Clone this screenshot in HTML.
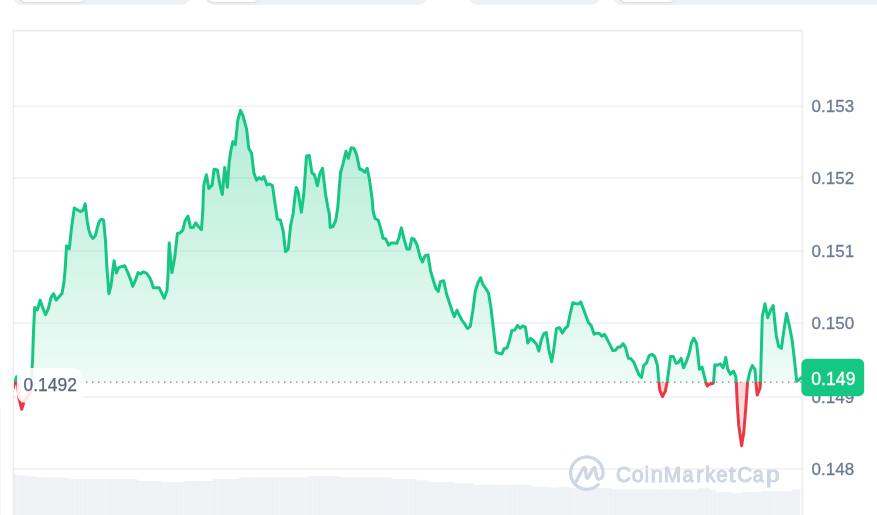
<!DOCTYPE html>
<html><head><meta charset="utf-8"><title>Chart</title>
<style>
html,body{margin:0;padding:0;background:#fff;}
body{width:877px;height:515px;overflow:hidden;position:relative;font-family:"Liberation Sans",sans-serif;}
.pill{position:absolute;top:-30px;height:34.6px;background:#eff2f5;border-radius:9px;}
.tog{position:absolute;top:-30px;height:31.8px;background:#fff;border-radius:7px;box-shadow:0 1px 2px rgba(128,138,157,.18),0 0 1px rgba(128,138,157,.25);}
svg{position:absolute;left:0;top:0;}
.ax{font-family:"Liberation Sans",sans-serif;font-size:17px;fill:#6e7992;stroke:#6e7992;stroke-width:.3px}
.wm{font-family:"Liberation Sans",sans-serif;font-size:21.8px;fill:#cfd6e4;stroke:#cfd6e4;stroke-width:1.1px;stroke-linejoin:round;stroke-linecap:round}
.t{font-family:"Liberation Sans",sans-serif;}
.txt{filter:blur(.35px);}
</style></head><body>
<div class="pill" style="left:13.4px;width:176.4px"></div><div class="tog" style="left:18.6px;width:68.9px"></div>
<div class="pill" style="left:204.6px;width:222px"></div><div class="tog" style="left:207px;width:52.5px"></div>
<div class="pill" style="left:468.5px;width:131.5px"></div>
<div class="pill" style="left:613.4px;width:300px"></div><div class="tog" style="left:618.6px;width:57.4px"></div>
<svg width="877" height="515" viewBox="0 0 877 515">
<defs>
<linearGradient id="gg" gradientUnits="userSpaceOnUse" x1="0" y1="100" x2="0" y2="382.0">
<stop offset="0" stop-color="#16c784" stop-opacity=".34"/><stop offset="1" stop-color="#16c784" stop-opacity=".07"/></linearGradient>
<linearGradient id="rg" gradientUnits="userSpaceOnUse" x1="0" y1="382.0" x2="0" y2="450">
<stop offset="0" stop-color="#ea3943" stop-opacity=".22"/><stop offset="1" stop-color="#ea3943" stop-opacity=".12"/></linearGradient>
<clipPath id="up"><rect x="14.0" y="0" width="788.3" height="382.0"/></clipPath>
<clipPath id="dn"><rect x="14.0" y="382.0" width="788.3" height="200"/></clipPath>
</defs>
<rect x="-6" y="406.5" width="7.2" height="130" rx="4" fill="#f6f7f9"/>
<!-- volume -->
<g fill="#eef1f5"><rect x="14" y="473.8" width="2.3" height="42.2"/><rect x="16.7" y="475" width="2.3" height="41"/><rect x="19.5" y="475" width="2.3" height="41"/><rect x="22.2" y="475" width="2.3" height="41"/><rect x="25" y="476.3" width="2.3" height="39.7"/><rect x="27.7" y="476.3" width="2.3" height="39.7"/><rect x="30.4" y="476.3" width="2.3" height="39.7"/><rect x="33.2" y="476.3" width="2.3" height="39.7"/><rect x="35.9" y="477.5" width="2.3" height="38.5"/><rect x="38.7" y="477.5" width="2.3" height="38.5"/><rect x="41.4" y="477.5" width="2.3" height="38.5"/><rect x="44.1" y="477.5" width="2.3" height="38.5"/><rect x="46.9" y="477.5" width="2.3" height="38.5"/><rect x="49.6" y="477.5" width="2.3" height="38.5"/><rect x="52.4" y="477.5" width="2.3" height="38.5"/><rect x="55.1" y="477.5" width="2.3" height="38.5"/><rect x="57.8" y="477.5" width="2.3" height="38.5"/><rect x="60.6" y="477.5" width="2.3" height="38.5"/><rect x="63.3" y="478" width="2.3" height="38"/><rect x="66.1" y="478" width="2.3" height="38"/><rect x="68.8" y="479.3" width="2.3" height="36.7"/><rect x="71.5" y="479.3" width="2.3" height="36.7"/><rect x="74.3" y="479.3" width="2.3" height="36.7"/><rect x="77" y="479.3" width="2.3" height="36.7"/><rect x="79.8" y="479.3" width="2.3" height="36.7"/><rect x="82.5" y="479.3" width="2.3" height="36.7"/><rect x="85.2" y="479.3" width="2.3" height="36.7"/><rect x="88" y="479.3" width="2.3" height="36.7"/><rect x="90.7" y="479.3" width="2.3" height="36.7"/><rect x="93.5" y="479.3" width="2.3" height="36.7"/><rect x="96.2" y="479.3" width="2.3" height="36.7"/><rect x="98.9" y="479.3" width="2.3" height="36.7"/><rect x="101.7" y="479.3" width="2.3" height="36.7"/><rect x="104.4" y="479.3" width="2.3" height="36.7"/><rect x="107.2" y="479.3" width="2.3" height="36.7"/><rect x="109.9" y="479.3" width="2.3" height="36.7"/><rect x="112.6" y="479.3" width="2.3" height="36.7"/><rect x="115.4" y="479.3" width="2.3" height="36.7"/><rect x="118.1" y="479.3" width="2.3" height="36.7"/><rect x="120.9" y="479.3" width="2.3" height="36.7"/><rect x="123.6" y="479.3" width="2.3" height="36.7"/><rect x="126.3" y="479.3" width="2.3" height="36.7"/><rect x="129.1" y="479.3" width="2.3" height="36.7"/><rect x="131.8" y="479.3" width="2.3" height="36.7"/><rect x="134.6" y="479.3" width="2.3" height="36.7"/><rect x="137.3" y="481" width="2.3" height="35"/><rect x="140" y="481" width="2.3" height="35"/><rect x="142.8" y="481" width="2.3" height="35"/><rect x="145.5" y="481" width="2.3" height="35"/><rect x="148.3" y="481" width="2.3" height="35"/><rect x="151" y="481" width="2.3" height="35"/><rect x="153.7" y="481" width="2.3" height="35"/><rect x="156.5" y="481" width="2.3" height="35"/><rect x="159.2" y="481" width="2.3" height="35"/><rect x="162" y="482.3" width="2.3" height="33.7"/><rect x="164.7" y="482.3" width="2.3" height="33.7"/><rect x="167.4" y="482.3" width="2.3" height="33.7"/><rect x="170.2" y="482.3" width="2.3" height="33.7"/><rect x="172.9" y="482.3" width="2.3" height="33.7"/><rect x="175.7" y="482.3" width="2.3" height="33.7"/><rect x="178.4" y="482.3" width="2.3" height="33.7"/><rect x="181.1" y="482.3" width="2.3" height="33.7"/><rect x="183.9" y="481" width="2.3" height="35"/><rect x="186.6" y="481" width="2.3" height="35"/><rect x="189.4" y="481" width="2.3" height="35"/><rect x="192.1" y="481" width="2.3" height="35"/><rect x="194.8" y="481" width="2.3" height="35"/><rect x="197.6" y="481" width="2.3" height="35"/><rect x="200.3" y="481" width="2.3" height="35"/><rect x="203.1" y="481" width="2.3" height="35"/><rect x="205.8" y="481" width="2.3" height="35"/><rect x="208.5" y="481" width="2.3" height="35"/><rect x="211.3" y="481" width="2.3" height="35"/><rect x="214" y="479" width="2.3" height="37"/><rect x="216.8" y="479" width="2.3" height="37"/><rect x="219.5" y="479" width="2.3" height="37"/><rect x="222.2" y="479" width="2.3" height="37"/><rect x="225" y="479" width="2.3" height="37"/><rect x="227.7" y="479" width="2.3" height="37"/><rect x="230.5" y="479" width="2.3" height="37"/><rect x="233.2" y="479" width="2.3" height="37"/><rect x="235.9" y="479" width="2.3" height="37"/><rect x="238.7" y="477.5" width="2.3" height="38.5"/><rect x="241.4" y="477.5" width="2.3" height="38.5"/><rect x="244.2" y="477.5" width="2.3" height="38.5"/><rect x="246.9" y="477.5" width="2.3" height="38.5"/><rect x="249.6" y="477.5" width="2.3" height="38.5"/><rect x="252.4" y="477.5" width="2.3" height="38.5"/><rect x="255.1" y="477.5" width="2.3" height="38.5"/><rect x="257.9" y="477.5" width="2.3" height="38.5"/><rect x="260.6" y="477.5" width="2.3" height="38.5"/><rect x="263.3" y="477.5" width="2.3" height="38.5"/><rect x="266.1" y="477.5" width="2.3" height="38.5"/><rect x="268.8" y="477.5" width="2.3" height="38.5"/><rect x="271.6" y="477.5" width="2.3" height="38.5"/><rect x="274.3" y="477.5" width="2.3" height="38.5"/><rect x="277" y="477.5" width="2.3" height="38.5"/><rect x="279.8" y="477.5" width="2.3" height="38.5"/><rect x="282.5" y="477.5" width="2.3" height="38.5"/><rect x="285.3" y="477.5" width="2.3" height="38.5"/><rect x="288" y="477.5" width="2.3" height="38.5"/><rect x="290.7" y="477.5" width="2.3" height="38.5"/><rect x="293.5" y="477.5" width="2.3" height="38.5"/><rect x="296.2" y="477.5" width="2.3" height="38.5"/><rect x="299" y="477.5" width="2.3" height="38.5"/><rect x="301.7" y="477.5" width="2.3" height="38.5"/><rect x="304.4" y="477.5" width="2.3" height="38.5"/><rect x="307.2" y="476.3" width="2.3" height="39.7"/><rect x="309.9" y="476.3" width="2.3" height="39.7"/><rect x="312.7" y="476.3" width="2.3" height="39.7"/><rect x="315.4" y="476.3" width="2.3" height="39.7"/><rect x="318.1" y="476.3" width="2.3" height="39.7"/><rect x="320.9" y="476.3" width="2.3" height="39.7"/><rect x="323.6" y="476.3" width="2.3" height="39.7"/><rect x="326.4" y="476.3" width="2.3" height="39.7"/><rect x="329.1" y="476.3" width="2.3" height="39.7"/><rect x="331.8" y="476.3" width="2.3" height="39.7"/><rect x="334.6" y="476.3" width="2.3" height="39.7"/><rect x="337.3" y="476.3" width="2.3" height="39.7"/><rect x="340.1" y="477.5" width="2.3" height="38.5"/><rect x="342.8" y="477.5" width="2.3" height="38.5"/><rect x="345.5" y="477.5" width="2.3" height="38.5"/><rect x="348.3" y="477.5" width="2.3" height="38.5"/><rect x="351" y="477.5" width="2.3" height="38.5"/><rect x="353.8" y="477.5" width="2.3" height="38.5"/><rect x="356.5" y="477.5" width="2.3" height="38.5"/><rect x="359.2" y="477.5" width="2.3" height="38.5"/><rect x="362" y="477.5" width="2.3" height="38.5"/><rect x="364.7" y="477.5" width="2.3" height="38.5"/><rect x="367.5" y="477.5" width="2.3" height="38.5"/><rect x="370.2" y="477.5" width="2.3" height="38.5"/><rect x="372.9" y="477.5" width="2.3" height="38.5"/><rect x="375.7" y="477.5" width="2.3" height="38.5"/><rect x="378.4" y="477.5" width="2.3" height="38.5"/><rect x="381.2" y="477.5" width="2.3" height="38.5"/><rect x="383.9" y="477.5" width="2.3" height="38.5"/><rect x="386.6" y="477.5" width="2.3" height="38.5"/><rect x="389.4" y="477.5" width="2.3" height="38.5"/><rect x="392.1" y="479" width="2.3" height="37"/><rect x="394.9" y="479" width="2.3" height="37"/><rect x="397.6" y="479" width="2.3" height="37"/><rect x="400.3" y="479" width="2.3" height="37"/><rect x="403.1" y="479" width="2.3" height="37"/><rect x="405.8" y="479" width="2.3" height="37"/><rect x="408.6" y="479" width="2.3" height="37"/><rect x="411.3" y="479" width="2.3" height="37"/><rect x="414" y="479" width="2.3" height="37"/><rect x="416.8" y="480.6" width="2.3" height="35.4"/><rect x="419.5" y="480.6" width="2.3" height="35.4"/><rect x="422.3" y="480.6" width="2.3" height="35.4"/><rect x="425" y="480.6" width="2.3" height="35.4"/><rect x="427.7" y="482" width="2.3" height="34"/><rect x="430.5" y="482" width="2.3" height="34"/><rect x="433.2" y="482" width="2.3" height="34"/><rect x="436" y="482" width="2.3" height="34"/><rect x="438.7" y="482" width="2.3" height="34"/><rect x="441.4" y="482" width="2.3" height="34"/><rect x="444.2" y="482" width="2.3" height="34"/><rect x="446.9" y="482" width="2.3" height="34"/><rect x="449.7" y="482" width="2.3" height="34"/><rect x="452.4" y="482" width="2.3" height="34"/><rect x="455.1" y="483.6" width="2.3" height="32.4"/><rect x="457.9" y="483.6" width="2.3" height="32.4"/><rect x="460.6" y="483.6" width="2.3" height="32.4"/><rect x="463.4" y="483.6" width="2.3" height="32.4"/><rect x="466.1" y="483.6" width="2.3" height="32.4"/><rect x="468.8" y="483.6" width="2.3" height="32.4"/><rect x="471.6" y="483.6" width="2.3" height="32.4"/><rect x="474.3" y="485" width="2.3" height="31"/><rect x="477.1" y="485" width="2.3" height="31"/><rect x="479.8" y="485" width="2.3" height="31"/><rect x="482.5" y="485" width="2.3" height="31"/><rect x="485.3" y="485" width="2.3" height="31"/><rect x="488" y="485" width="2.3" height="31"/><rect x="490.8" y="485" width="2.3" height="31"/><rect x="493.5" y="485" width="2.3" height="31"/><rect x="496.2" y="485" width="2.3" height="31"/><rect x="499" y="485" width="2.3" height="31"/><rect x="501.7" y="485" width="2.3" height="31"/><rect x="504.5" y="485" width="2.3" height="31"/><rect x="507.2" y="485" width="2.3" height="31"/><rect x="509.9" y="485" width="2.3" height="31"/><rect x="512.7" y="485" width="2.3" height="31"/><rect x="515.4" y="485" width="2.3" height="31"/><rect x="518.2" y="485" width="2.3" height="31"/><rect x="520.9" y="485" width="2.3" height="31"/><rect x="523.6" y="485" width="2.3" height="31"/><rect x="526.4" y="485" width="2.3" height="31"/><rect x="529.1" y="485" width="2.3" height="31"/><rect x="531.9" y="486.8" width="2.3" height="29.2"/><rect x="534.6" y="486.8" width="2.3" height="29.2"/><rect x="537.3" y="486.8" width="2.3" height="29.2"/><rect x="540.1" y="486.8" width="2.3" height="29.2"/><rect x="542.8" y="486.8" width="2.3" height="29.2"/><rect x="545.6" y="486.8" width="2.3" height="29.2"/><rect x="548.3" y="486.8" width="2.3" height="29.2"/><rect x="551" y="487.8" width="2.3" height="28.2"/><rect x="553.8" y="487.8" width="2.3" height="28.2"/><rect x="556.5" y="487.8" width="2.3" height="28.2"/><rect x="559.3" y="486.8" width="2.3" height="29.2"/><rect x="562" y="486.8" width="2.3" height="29.2"/><rect x="564.7" y="486.8" width="2.3" height="29.2"/><rect x="567.5" y="486.8" width="2.3" height="29.2"/><rect x="570.2" y="488" width="2.3" height="28"/><rect x="573" y="488" width="2.3" height="28"/><rect x="575.7" y="488" width="2.3" height="28"/><rect x="578.4" y="488" width="2.3" height="28"/><rect x="581.2" y="488" width="2.3" height="28"/><rect x="583.9" y="488" width="2.3" height="28"/><rect x="586.7" y="488" width="2.3" height="28"/><rect x="589.4" y="488" width="2.3" height="28"/><rect x="592.1" y="488" width="2.3" height="28"/><rect x="594.9" y="488" width="2.3" height="28"/><rect x="597.6" y="488" width="2.3" height="28"/><rect x="600.4" y="488" width="2.3" height="28"/><rect x="603.1" y="488" width="2.3" height="28"/><rect x="605.8" y="488" width="2.3" height="28"/><rect x="608.6" y="488" width="2.3" height="28"/><rect x="611.3" y="489.5" width="2.3" height="26.5"/><rect x="614.1" y="489.5" width="2.3" height="26.5"/><rect x="616.8" y="489.5" width="2.3" height="26.5"/><rect x="619.5" y="489.5" width="2.3" height="26.5"/><rect x="622.3" y="489.5" width="2.3" height="26.5"/><rect x="625" y="489.5" width="2.3" height="26.5"/><rect x="627.8" y="489.5" width="2.3" height="26.5"/><rect x="630.5" y="489.5" width="2.3" height="26.5"/><rect x="633.2" y="489.5" width="2.3" height="26.5"/><rect x="636" y="489.5" width="2.3" height="26.5"/><rect x="638.7" y="489.5" width="2.3" height="26.5"/><rect x="641.5" y="489.5" width="2.3" height="26.5"/><rect x="644.2" y="489.5" width="2.3" height="26.5"/><rect x="646.9" y="489.5" width="2.3" height="26.5"/><rect x="649.7" y="489.5" width="2.3" height="26.5"/><rect x="652.4" y="489.5" width="2.3" height="26.5"/><rect x="655.2" y="489.5" width="2.3" height="26.5"/><rect x="657.9" y="489.5" width="2.3" height="26.5"/><rect x="660.6" y="489.5" width="2.3" height="26.5"/><rect x="663.4" y="489.5" width="2.3" height="26.5"/><rect x="666.1" y="489.5" width="2.3" height="26.5"/><rect x="668.9" y="489.5" width="2.3" height="26.5"/><rect x="671.6" y="489.5" width="2.3" height="26.5"/><rect x="674.3" y="489.5" width="2.3" height="26.5"/><rect x="677.1" y="489.5" width="2.3" height="26.5"/><rect x="679.8" y="489.5" width="2.3" height="26.5"/><rect x="682.6" y="489.5" width="2.3" height="26.5"/><rect x="685.3" y="489.5" width="2.3" height="26.5"/><rect x="688" y="489.5" width="2.3" height="26.5"/><rect x="690.8" y="489.5" width="2.3" height="26.5"/><rect x="693.5" y="489.5" width="2.3" height="26.5"/><rect x="696.3" y="489.5" width="2.3" height="26.5"/><rect x="699" y="488.3" width="2.3" height="27.7"/><rect x="701.7" y="488.3" width="2.3" height="27.7"/><rect x="704.5" y="488.3" width="2.3" height="27.7"/><rect x="707.2" y="488.3" width="2.3" height="27.7"/><rect x="710" y="490" width="2.3" height="26"/><rect x="712.7" y="490" width="2.3" height="26"/><rect x="715.4" y="492" width="2.3" height="24"/><rect x="718.2" y="492" width="2.3" height="24"/><rect x="720.9" y="492" width="2.3" height="24"/><rect x="723.7" y="492" width="2.3" height="24"/><rect x="726.4" y="492" width="2.3" height="24"/><rect x="729.1" y="492" width="2.3" height="24"/><rect x="731.9" y="493.3" width="2.3" height="22.7"/><rect x="734.6" y="493.3" width="2.3" height="22.7"/><rect x="737.4" y="493.3" width="2.3" height="22.7"/><rect x="740.1" y="493.3" width="2.3" height="22.7"/><rect x="742.8" y="492" width="2.3" height="24"/><rect x="745.6" y="492" width="2.3" height="24"/><rect x="748.3" y="492" width="2.3" height="24"/><rect x="751.1" y="492" width="2.3" height="24"/><rect x="753.8" y="492" width="2.3" height="24"/><rect x="756.5" y="492" width="2.3" height="24"/><rect x="759.3" y="492" width="2.3" height="24"/><rect x="762" y="491" width="2.3" height="25"/><rect x="764.8" y="491" width="2.3" height="25"/><rect x="767.5" y="491" width="2.3" height="25"/><rect x="770.2" y="491" width="2.3" height="25"/><rect x="773" y="491" width="2.3" height="25"/><rect x="775.7" y="491" width="2.3" height="25"/><rect x="778.5" y="491" width="2.3" height="25"/><rect x="781.2" y="491" width="2.3" height="25"/><rect x="783.9" y="491" width="2.3" height="25"/><rect x="786.7" y="491" width="2.3" height="25"/><rect x="789.4" y="491" width="2.3" height="25"/><rect x="792.2" y="489.6" width="2.3" height="26.4"/><rect x="794.9" y="489.6" width="2.3" height="26.4"/><rect x="797.6" y="489.6" width="2.3" height="26.4"/></g>
<path d="M14,516 L14,473.8 L17,473.8 L17,475 L26,475 L26,476.3 L36,476.3 L36,477.5 L63,477.5 L63,478 L70,478 L70,479.3 L138,479.3 L138,481 L162,481 L162,482.3 L184,482.3 L184,481 L213,481 L213,479 L240,479 L240,477.5 L308,477.5 L308,476.3 L339,476.3 L339,477.5 L392,477.5 L392,479 L418,479 L418,480.6 L429,480.6 L429,482 L454,482 L454,483.6 L473,483.6 L473,485 L532,485 L532,486.8 L551,486.8 L551,487.8 L558,487.8 L558,486.8 L570,486.8 L570,488 L610,488 L610,489.5 L698,489.5 L698,488.3 L711,488.3 L711,490 L716,490 L716,492 L733,492 L733,493.3 L742,493.3 L742,492 L762,492 L762,491 L792,491 L792,489.6 L800.5,489.6 L800.5,516 Z" fill="#eef1f5" opacity=".55"/>
<!-- grid -->
<rect x="13.3" y="105.5" width="789" height="1.5" fill="#f1f1f3"/><rect x="13.3" y="177.3" width="789" height="1.5" fill="#f1f1f3"/><rect x="13.3" y="250.4" width="789" height="1.5" fill="#f1f1f3"/><rect x="13.3" y="322.4" width="789" height="1.5" fill="#f1f1f3"/><rect x="13.3" y="396.4" width="789" height="1.5" fill="#f1f1f3"/><rect x="13.3" y="468.2" width="789" height="1.5" fill="#f1f1f3"/>
<rect x="12.6" y="29.9" width="790.5" height="1.6" fill="#ebebec"/>
<rect x="12.6" y="29.9" width="1.6" height="500" fill="#ededee"/>
<rect x="801.5" y="29.9" width="1.6" height="500" fill="#ededee"/>
<!-- watermark -->
<g class="txt">
<path fill="none" stroke="#cfd6e4" stroke-width="3.3" stroke-linecap="round" stroke-linejoin="round" d="M576.2,481.6 L582.6,469.2 Q584.7,465.3 585.5,469.6 L586.3,476.6 Q586.9,479.9 588.7,476.8 L592.7,469.2 Q594.7,465.4 595.4,469.7 L596.4,476 Q597.1,479.7 599.4,479.2 Q603,478.4 603,472.8 A16.2,16.2 0 1 0 598.2,484.6"/>
<text transform="translate(616.11,481.7) scale(0.953,1)" class="wm">C</text><text transform="translate(631.70,481.7) scale(0.975,1)" class="wm">o</text><text transform="translate(644.81,481.7) scale(0.872,1)" class="wm">i</text><text transform="translate(650.73,481.7) scale(1.011,1)" class="wm">n</text><text transform="translate(663.78,481.7) scale(0.958,1)" class="wm">M</text><text transform="translate(682.57,481.7) scale(0.900,1)" class="wm">a</text><text transform="translate(696.36,481.7) scale(0.988,1)" class="wm">r</text><text transform="translate(705.24,481.7) scale(0.928,1)" class="wm">k</text><text transform="translate(716.34,481.7) scale(0.927,1)" class="wm">e</text><text transform="translate(728.71,481.7) scale(1.121,1)" class="wm">t</text><text transform="translate(737.22,481.7) scale(0.946,1)" class="wm">C</text><text transform="translate(752.87,481.7) scale(0.900,1)" class="wm">a</text><text transform="translate(765.99,481.7) scale(1.117,1)" class="wm">p</text>
</g>
<!-- area -->
<path d="M13,382 L13,389 L16.5,376.8 L17.4,382 L18.9,398 L21.7,409.3 L23.7,402.6 L30.8,391.5 L31.2,381.7 L32.1,367.6 L32.6,360 L33.4,333.9 L34.7,307.4 L37.4,309.8 L40.1,300.1 L42.9,308.3 L45.6,314.7 L48.4,308.3 L51.1,297.4 L53.5,293.7 L56.2,300.1 L59.3,296.5 L62,293.4 L63.9,282.8 L65.1,270 L66.6,245.7 L69.3,248.8 L71.7,226.5 L74.3,207.9 L77.6,210.1 L80.3,211.5 L83,210.4 L85.2,203.7 L87.2,221 L88.9,230.1 L90.7,235.6 L93.1,238.4 L95.4,235.6 L97.6,226.5 L99.5,221 L101.3,219.2 L103.6,220.1 L105.5,241.1 L106.8,266 L108.9,293.7 L110.9,286.4 L112.6,272 L114.1,260.8 L116.4,273 L118.6,267.6 L121.4,266.6 L124.6,265.7 L127.7,272.1 L130.5,279.4 L132.7,286.4 L135.9,279.1 L138.1,272.6 L140.5,274 L143.2,271.8 L146.4,273.2 L149.6,277.3 L151.9,282.8 L153.3,287.8 L159.2,287.8 L164.2,298.3 L166.9,291 L167.9,278.2 L169.2,242.9 L171.9,272.6 L174.6,258.4 L177.4,233.4 L180.1,232.8 L182.8,230.1 L185,221 L188,216.1 L190.5,227.4 L193.4,227.4 L195.6,222.8 L198.4,226.5 L201.5,229.6 L202.9,209.1 L203.2,198 L203.9,184.5 L206.4,174.8 L208.8,188.5 L212.1,185.1 L214.1,169.3 L217.4,169.9 L220.1,185.8 L222.3,194.5 L224.7,167.5 L227.4,187.2 L229.2,162 L231.1,149.3 L232.9,141.6 L235.3,144.7 L237.8,120.1 L240.5,110.4 L242.9,115.5 L246.6,129.2 L248.8,148.4 L251.5,152.9 L253.9,173 L256.6,180.3 L259,177.6 L261.5,179.4 L263.9,176.6 L267,184.9 L269.7,183.9 L272.5,185.8 L274.2,198 L277.4,219.2 L280.3,219.9 L283.2,231 L285.5,251.6 L288.2,249.1 L290.6,225.5 L293.1,214 L294.9,197 L296.2,187.4 L298.2,192 L299.4,200 L301.4,212.3 L303.7,195 L306.5,156.1 L309.3,155.6 L311.9,173 L314.5,174.8 L317.4,185.8 L319.9,173.4 L322.5,168.2 L325.5,194 L327.8,207 L329.3,213.9 L330.2,227.4 L332.9,226.5 L335.7,220.5 L337.7,208 L340.5,173 L343,163.8 L346,151.3 L348.3,158.3 L351.2,147.7 L353.9,148.2 L356.6,154.6 L359.7,169.2 L362.1,169.8 L364.9,172.3 L367.2,168.3 L369.4,179.3 L372.2,199.3 L373.1,210.9 L374.9,218.4 L378.2,220.2 L380.4,227.4 L383.1,238.3 L385.5,238.7 L388.6,245.1 L391.3,242.9 L394.1,242.9 L396.8,243.4 L399,237.4 L401.4,227.9 L404.1,239.2 L406.8,248.9 L409.6,248.9 L411.8,238.3 L414.1,239.2 L417.2,245.3 L420.1,257 L422.5,262 L425.1,255.6 L428,254.9 L430.5,270.6 L433.5,281 L436,288.8 L438.3,291.4 L440.4,281.6 L443.7,280.7 L446.5,293.8 L450.1,304.7 L452.5,312 L454.3,316.6 L456.9,310.2 L459.2,314.8 L462,320.3 L464.7,323.9 L467.4,328.5 L470.2,326.6 L472.9,310.2 L475.3,291.1 L478,282.8 L480.6,277.7 L483,284.7 L485.7,288.3 L488.6,293.2 L491,308.3 L493.4,328.5 L496.1,352.4 L499.2,353.3 L501.9,353.9 L504.3,348.4 L507,348 L509.2,341.1 L511.9,330.5 L514.8,330.1 L517.5,325.4 L520.1,328.2 L522.8,325.8 L525.4,327 L527.8,343 L530.5,338.4 L533.7,341 L536.4,343.9 L538.8,351.1 L541.3,340 L543.8,333.7 L546.3,332.6 L548.9,350 L551.7,361.7 L553.9,348.4 L556.5,328.4 L559.5,327.8 L562.4,333.1 L565,328.7 L567.7,326.1 L570,314.7 L572.8,302.8 L575.5,303.5 L578.2,304.1 L580.8,301.9 L583.1,308.2 L585.8,315.5 L588.6,322.8 L591.3,325.6 L594.1,334.2 L596.8,333.2 L599.5,333.4 L601.9,336.2 L604.5,334.3 L607.2,339.3 L609.9,344.7 L612.8,350.6 L615.4,350.2 L618.1,346.9 L620.3,347.1 L623,343.7 L625.6,347.6 L628.2,358 L630.9,358.7 L633.7,361.9 L636.5,368.9 L639,374.8 L641.5,377.5 L643.7,365.6 L646.5,362.9 L649.2,355.6 L651.9,354.3 L654.7,356.5 L657.4,365.3 L658.9,382 L659.8,390.3 L662.5,396.6 L665.3,391.2 L667.1,382 L668.4,372.9 L670.5,356.5 L673.3,356.5 L676,363.2 L678.4,362.5 L681.1,358.3 L683.5,367.8 L686.2,362 L689,353.8 L691.5,342.8 L693.9,338.2 L696.6,343.7 L698.1,356.5 L699.4,369.3 L702.1,367.1 L703.9,374.7 L705.8,382 L707.2,386 L709.4,384.2 L713.1,383.3 L713.6,382 L714.9,364.7 L717.6,365.3 L720.4,363.8 L723.1,367.8 L725.8,357.4 L727.7,369.3 L730.4,374.2 L733.5,371.1 L735.8,376.6 L736.3,382 L737.4,406.5 L738.7,424.7 L741.6,445.7 L743.8,432 L745.6,410.1 L747.6,382 L749.6,372.5 L752.3,365.5 L755,369.3 L755.9,382 L757.2,395 L760,388.3 L760.5,382 L761.2,355 L762.3,316.5 L765,303.7 L767.7,317.7 L770.5,310.4 L773.2,305.5 L774.7,321 L776.3,335.5 L778.6,346.2 L781.4,348.4 L783.8,331.1 L786.5,313.4 L789.3,325.6 L792,339.3 L794.2,357.5 L796.7,381.2 L799.3,379.4 L802,377.2 L802,382 Z" fill="url(#gg)" clip-path="url(#up)"/>
<path d="M13,382 L13,389 L16.5,376.8 L17.4,382 L18.9,398 L21.7,409.3 L23.7,402.6 L30.8,391.5 L31.2,381.7 L32.1,367.6 L32.6,360 L33.4,333.9 L34.7,307.4 L37.4,309.8 L40.1,300.1 L42.9,308.3 L45.6,314.7 L48.4,308.3 L51.1,297.4 L53.5,293.7 L56.2,300.1 L59.3,296.5 L62,293.4 L63.9,282.8 L65.1,270 L66.6,245.7 L69.3,248.8 L71.7,226.5 L74.3,207.9 L77.6,210.1 L80.3,211.5 L83,210.4 L85.2,203.7 L87.2,221 L88.9,230.1 L90.7,235.6 L93.1,238.4 L95.4,235.6 L97.6,226.5 L99.5,221 L101.3,219.2 L103.6,220.1 L105.5,241.1 L106.8,266 L108.9,293.7 L110.9,286.4 L112.6,272 L114.1,260.8 L116.4,273 L118.6,267.6 L121.4,266.6 L124.6,265.7 L127.7,272.1 L130.5,279.4 L132.7,286.4 L135.9,279.1 L138.1,272.6 L140.5,274 L143.2,271.8 L146.4,273.2 L149.6,277.3 L151.9,282.8 L153.3,287.8 L159.2,287.8 L164.2,298.3 L166.9,291 L167.9,278.2 L169.2,242.9 L171.9,272.6 L174.6,258.4 L177.4,233.4 L180.1,232.8 L182.8,230.1 L185,221 L188,216.1 L190.5,227.4 L193.4,227.4 L195.6,222.8 L198.4,226.5 L201.5,229.6 L202.9,209.1 L203.2,198 L203.9,184.5 L206.4,174.8 L208.8,188.5 L212.1,185.1 L214.1,169.3 L217.4,169.9 L220.1,185.8 L222.3,194.5 L224.7,167.5 L227.4,187.2 L229.2,162 L231.1,149.3 L232.9,141.6 L235.3,144.7 L237.8,120.1 L240.5,110.4 L242.9,115.5 L246.6,129.2 L248.8,148.4 L251.5,152.9 L253.9,173 L256.6,180.3 L259,177.6 L261.5,179.4 L263.9,176.6 L267,184.9 L269.7,183.9 L272.5,185.8 L274.2,198 L277.4,219.2 L280.3,219.9 L283.2,231 L285.5,251.6 L288.2,249.1 L290.6,225.5 L293.1,214 L294.9,197 L296.2,187.4 L298.2,192 L299.4,200 L301.4,212.3 L303.7,195 L306.5,156.1 L309.3,155.6 L311.9,173 L314.5,174.8 L317.4,185.8 L319.9,173.4 L322.5,168.2 L325.5,194 L327.8,207 L329.3,213.9 L330.2,227.4 L332.9,226.5 L335.7,220.5 L337.7,208 L340.5,173 L343,163.8 L346,151.3 L348.3,158.3 L351.2,147.7 L353.9,148.2 L356.6,154.6 L359.7,169.2 L362.1,169.8 L364.9,172.3 L367.2,168.3 L369.4,179.3 L372.2,199.3 L373.1,210.9 L374.9,218.4 L378.2,220.2 L380.4,227.4 L383.1,238.3 L385.5,238.7 L388.6,245.1 L391.3,242.9 L394.1,242.9 L396.8,243.4 L399,237.4 L401.4,227.9 L404.1,239.2 L406.8,248.9 L409.6,248.9 L411.8,238.3 L414.1,239.2 L417.2,245.3 L420.1,257 L422.5,262 L425.1,255.6 L428,254.9 L430.5,270.6 L433.5,281 L436,288.8 L438.3,291.4 L440.4,281.6 L443.7,280.7 L446.5,293.8 L450.1,304.7 L452.5,312 L454.3,316.6 L456.9,310.2 L459.2,314.8 L462,320.3 L464.7,323.9 L467.4,328.5 L470.2,326.6 L472.9,310.2 L475.3,291.1 L478,282.8 L480.6,277.7 L483,284.7 L485.7,288.3 L488.6,293.2 L491,308.3 L493.4,328.5 L496.1,352.4 L499.2,353.3 L501.9,353.9 L504.3,348.4 L507,348 L509.2,341.1 L511.9,330.5 L514.8,330.1 L517.5,325.4 L520.1,328.2 L522.8,325.8 L525.4,327 L527.8,343 L530.5,338.4 L533.7,341 L536.4,343.9 L538.8,351.1 L541.3,340 L543.8,333.7 L546.3,332.6 L548.9,350 L551.7,361.7 L553.9,348.4 L556.5,328.4 L559.5,327.8 L562.4,333.1 L565,328.7 L567.7,326.1 L570,314.7 L572.8,302.8 L575.5,303.5 L578.2,304.1 L580.8,301.9 L583.1,308.2 L585.8,315.5 L588.6,322.8 L591.3,325.6 L594.1,334.2 L596.8,333.2 L599.5,333.4 L601.9,336.2 L604.5,334.3 L607.2,339.3 L609.9,344.7 L612.8,350.6 L615.4,350.2 L618.1,346.9 L620.3,347.1 L623,343.7 L625.6,347.6 L628.2,358 L630.9,358.7 L633.7,361.9 L636.5,368.9 L639,374.8 L641.5,377.5 L643.7,365.6 L646.5,362.9 L649.2,355.6 L651.9,354.3 L654.7,356.5 L657.4,365.3 L658.9,382 L659.8,390.3 L662.5,396.6 L665.3,391.2 L667.1,382 L668.4,372.9 L670.5,356.5 L673.3,356.5 L676,363.2 L678.4,362.5 L681.1,358.3 L683.5,367.8 L686.2,362 L689,353.8 L691.5,342.8 L693.9,338.2 L696.6,343.7 L698.1,356.5 L699.4,369.3 L702.1,367.1 L703.9,374.7 L705.8,382 L707.2,386 L709.4,384.2 L713.1,383.3 L713.6,382 L714.9,364.7 L717.6,365.3 L720.4,363.8 L723.1,367.8 L725.8,357.4 L727.7,369.3 L730.4,374.2 L733.5,371.1 L735.8,376.6 L736.3,382 L737.4,406.5 L738.7,424.7 L741.6,445.7 L743.8,432 L745.6,410.1 L747.6,382 L749.6,372.5 L752.3,365.5 L755,369.3 L755.9,382 L757.2,395 L760,388.3 L760.5,382 L761.2,355 L762.3,316.5 L765,303.7 L767.7,317.7 L770.5,310.4 L773.2,305.5 L774.7,321 L776.3,335.5 L778.6,346.2 L781.4,348.4 L783.8,331.1 L786.5,313.4 L789.3,325.6 L792,339.3 L794.2,357.5 L796.7,381.2 L799.3,379.4 L802,377.2 L802,382 Z" fill="url(#rg)" clip-path="url(#dn)"/>
<!-- baseline dotted -->
<line x1="13.9" y1="382.1" x2="802.3" y2="382.1" stroke="#808288" stroke-width="1.3" stroke-dasharray="1.4 4.6" stroke-dashoffset="-0.1"/>
<!-- line -->
<polyline points="13,389 16.5,376.8 17.4,382 18.9,398 21.7,409.3 23.7,402.6 30.8,391.5 31.2,381.7 32.1,367.6 32.6,360 33.4,333.9 34.7,307.4 37.4,309.8 40.1,300.1 42.9,308.3 45.6,314.7 48.4,308.3 51.1,297.4 53.5,293.7 56.2,300.1 59.3,296.5 62,293.4 63.9,282.8 65.1,270 66.6,245.7 69.3,248.8 71.7,226.5 74.3,207.9 77.6,210.1 80.3,211.5 83,210.4 85.2,203.7 87.2,221 88.9,230.1 90.7,235.6 93.1,238.4 95.4,235.6 97.6,226.5 99.5,221 101.3,219.2 103.6,220.1 105.5,241.1 106.8,266 108.9,293.7 110.9,286.4 112.6,272 114.1,260.8 116.4,273 118.6,267.6 121.4,266.6 124.6,265.7 127.7,272.1 130.5,279.4 132.7,286.4 135.9,279.1 138.1,272.6 140.5,274 143.2,271.8 146.4,273.2 149.6,277.3 151.9,282.8 153.3,287.8 159.2,287.8 164.2,298.3 166.9,291 167.9,278.2 169.2,242.9 171.9,272.6 174.6,258.4 177.4,233.4 180.1,232.8 182.8,230.1 185,221 188,216.1 190.5,227.4 193.4,227.4 195.6,222.8 198.4,226.5 201.5,229.6 202.9,209.1 203.2,198 203.9,184.5 206.4,174.8 208.8,188.5 212.1,185.1 214.1,169.3 217.4,169.9 220.1,185.8 222.3,194.5 224.7,167.5 227.4,187.2 229.2,162 231.1,149.3 232.9,141.6 235.3,144.7 237.8,120.1 240.5,110.4 242.9,115.5 246.6,129.2 248.8,148.4 251.5,152.9 253.9,173 256.6,180.3 259,177.6 261.5,179.4 263.9,176.6 267,184.9 269.7,183.9 272.5,185.8 274.2,198 277.4,219.2 280.3,219.9 283.2,231 285.5,251.6 288.2,249.1 290.6,225.5 293.1,214 294.9,197 296.2,187.4 298.2,192 299.4,200 301.4,212.3 303.7,195 306.5,156.1 309.3,155.6 311.9,173 314.5,174.8 317.4,185.8 319.9,173.4 322.5,168.2 325.5,194 327.8,207 329.3,213.9 330.2,227.4 332.9,226.5 335.7,220.5 337.7,208 340.5,173 343,163.8 346,151.3 348.3,158.3 351.2,147.7 353.9,148.2 356.6,154.6 359.7,169.2 362.1,169.8 364.9,172.3 367.2,168.3 369.4,179.3 372.2,199.3 373.1,210.9 374.9,218.4 378.2,220.2 380.4,227.4 383.1,238.3 385.5,238.7 388.6,245.1 391.3,242.9 394.1,242.9 396.8,243.4 399,237.4 401.4,227.9 404.1,239.2 406.8,248.9 409.6,248.9 411.8,238.3 414.1,239.2 417.2,245.3 420.1,257 422.5,262 425.1,255.6 428,254.9 430.5,270.6 433.5,281 436,288.8 438.3,291.4 440.4,281.6 443.7,280.7 446.5,293.8 450.1,304.7 452.5,312 454.3,316.6 456.9,310.2 459.2,314.8 462,320.3 464.7,323.9 467.4,328.5 470.2,326.6 472.9,310.2 475.3,291.1 478,282.8 480.6,277.7 483,284.7 485.7,288.3 488.6,293.2 491,308.3 493.4,328.5 496.1,352.4 499.2,353.3 501.9,353.9 504.3,348.4 507,348 509.2,341.1 511.9,330.5 514.8,330.1 517.5,325.4 520.1,328.2 522.8,325.8 525.4,327 527.8,343 530.5,338.4 533.7,341 536.4,343.9 538.8,351.1 541.3,340 543.8,333.7 546.3,332.6 548.9,350 551.7,361.7 553.9,348.4 556.5,328.4 559.5,327.8 562.4,333.1 565,328.7 567.7,326.1 570,314.7 572.8,302.8 575.5,303.5 578.2,304.1 580.8,301.9 583.1,308.2 585.8,315.5 588.6,322.8 591.3,325.6 594.1,334.2 596.8,333.2 599.5,333.4 601.9,336.2 604.5,334.3 607.2,339.3 609.9,344.7 612.8,350.6 615.4,350.2 618.1,346.9 620.3,347.1 623,343.7 625.6,347.6 628.2,358 630.9,358.7 633.7,361.9 636.5,368.9 639,374.8 641.5,377.5 643.7,365.6 646.5,362.9 649.2,355.6 651.9,354.3 654.7,356.5 657.4,365.3 658.9,382 659.8,390.3 662.5,396.6 665.3,391.2 667.1,382 668.4,372.9 670.5,356.5 673.3,356.5 676,363.2 678.4,362.5 681.1,358.3 683.5,367.8 686.2,362 689,353.8 691.5,342.8 693.9,338.2 696.6,343.7 698.1,356.5 699.4,369.3 702.1,367.1 703.9,374.7 705.8,382 707.2,386 709.4,384.2 713.1,383.3 713.6,382 714.9,364.7 717.6,365.3 720.4,363.8 723.1,367.8 725.8,357.4 727.7,369.3 730.4,374.2 733.5,371.1 735.8,376.6 736.3,382 737.4,406.5 738.7,424.7 741.6,445.7 743.8,432 745.6,410.1 747.6,382 749.6,372.5 752.3,365.5 755,369.3 755.9,382 757.2,395 760,388.3 760.5,382 761.2,355 762.3,316.5 765,303.7 767.7,317.7 770.5,310.4 773.2,305.5 774.7,321 776.3,335.5 778.6,346.2 781.4,348.4 783.8,331.1 786.5,313.4 789.3,325.6 792,339.3 794.2,357.5 796.7,381.2 799.3,379.4 802,377.2" fill="none" stroke="#16c784" stroke-width="3" stroke-linejoin="round" stroke-linecap="butt" clip-path="url(#up)"/>
<polyline points="13,389 16.5,376.8 17.4,382 18.9,398 21.7,409.3 23.7,402.6 30.8,391.5 31.2,381.7 32.1,367.6 32.6,360 33.4,333.9 34.7,307.4 37.4,309.8 40.1,300.1 42.9,308.3 45.6,314.7 48.4,308.3 51.1,297.4 53.5,293.7 56.2,300.1 59.3,296.5 62,293.4 63.9,282.8 65.1,270 66.6,245.7 69.3,248.8 71.7,226.5 74.3,207.9 77.6,210.1 80.3,211.5 83,210.4 85.2,203.7 87.2,221 88.9,230.1 90.7,235.6 93.1,238.4 95.4,235.6 97.6,226.5 99.5,221 101.3,219.2 103.6,220.1 105.5,241.1 106.8,266 108.9,293.7 110.9,286.4 112.6,272 114.1,260.8 116.4,273 118.6,267.6 121.4,266.6 124.6,265.7 127.7,272.1 130.5,279.4 132.7,286.4 135.9,279.1 138.1,272.6 140.5,274 143.2,271.8 146.4,273.2 149.6,277.3 151.9,282.8 153.3,287.8 159.2,287.8 164.2,298.3 166.9,291 167.9,278.2 169.2,242.9 171.9,272.6 174.6,258.4 177.4,233.4 180.1,232.8 182.8,230.1 185,221 188,216.1 190.5,227.4 193.4,227.4 195.6,222.8 198.4,226.5 201.5,229.6 202.9,209.1 203.2,198 203.9,184.5 206.4,174.8 208.8,188.5 212.1,185.1 214.1,169.3 217.4,169.9 220.1,185.8 222.3,194.5 224.7,167.5 227.4,187.2 229.2,162 231.1,149.3 232.9,141.6 235.3,144.7 237.8,120.1 240.5,110.4 242.9,115.5 246.6,129.2 248.8,148.4 251.5,152.9 253.9,173 256.6,180.3 259,177.6 261.5,179.4 263.9,176.6 267,184.9 269.7,183.9 272.5,185.8 274.2,198 277.4,219.2 280.3,219.9 283.2,231 285.5,251.6 288.2,249.1 290.6,225.5 293.1,214 294.9,197 296.2,187.4 298.2,192 299.4,200 301.4,212.3 303.7,195 306.5,156.1 309.3,155.6 311.9,173 314.5,174.8 317.4,185.8 319.9,173.4 322.5,168.2 325.5,194 327.8,207 329.3,213.9 330.2,227.4 332.9,226.5 335.7,220.5 337.7,208 340.5,173 343,163.8 346,151.3 348.3,158.3 351.2,147.7 353.9,148.2 356.6,154.6 359.7,169.2 362.1,169.8 364.9,172.3 367.2,168.3 369.4,179.3 372.2,199.3 373.1,210.9 374.9,218.4 378.2,220.2 380.4,227.4 383.1,238.3 385.5,238.7 388.6,245.1 391.3,242.9 394.1,242.9 396.8,243.4 399,237.4 401.4,227.9 404.1,239.2 406.8,248.9 409.6,248.9 411.8,238.3 414.1,239.2 417.2,245.3 420.1,257 422.5,262 425.1,255.6 428,254.9 430.5,270.6 433.5,281 436,288.8 438.3,291.4 440.4,281.6 443.7,280.7 446.5,293.8 450.1,304.7 452.5,312 454.3,316.6 456.9,310.2 459.2,314.8 462,320.3 464.7,323.9 467.4,328.5 470.2,326.6 472.9,310.2 475.3,291.1 478,282.8 480.6,277.7 483,284.7 485.7,288.3 488.6,293.2 491,308.3 493.4,328.5 496.1,352.4 499.2,353.3 501.9,353.9 504.3,348.4 507,348 509.2,341.1 511.9,330.5 514.8,330.1 517.5,325.4 520.1,328.2 522.8,325.8 525.4,327 527.8,343 530.5,338.4 533.7,341 536.4,343.9 538.8,351.1 541.3,340 543.8,333.7 546.3,332.6 548.9,350 551.7,361.7 553.9,348.4 556.5,328.4 559.5,327.8 562.4,333.1 565,328.7 567.7,326.1 570,314.7 572.8,302.8 575.5,303.5 578.2,304.1 580.8,301.9 583.1,308.2 585.8,315.5 588.6,322.8 591.3,325.6 594.1,334.2 596.8,333.2 599.5,333.4 601.9,336.2 604.5,334.3 607.2,339.3 609.9,344.7 612.8,350.6 615.4,350.2 618.1,346.9 620.3,347.1 623,343.7 625.6,347.6 628.2,358 630.9,358.7 633.7,361.9 636.5,368.9 639,374.8 641.5,377.5 643.7,365.6 646.5,362.9 649.2,355.6 651.9,354.3 654.7,356.5 657.4,365.3 658.9,382 659.8,390.3 662.5,396.6 665.3,391.2 667.1,382 668.4,372.9 670.5,356.5 673.3,356.5 676,363.2 678.4,362.5 681.1,358.3 683.5,367.8 686.2,362 689,353.8 691.5,342.8 693.9,338.2 696.6,343.7 698.1,356.5 699.4,369.3 702.1,367.1 703.9,374.7 705.8,382 707.2,386 709.4,384.2 713.1,383.3 713.6,382 714.9,364.7 717.6,365.3 720.4,363.8 723.1,367.8 725.8,357.4 727.7,369.3 730.4,374.2 733.5,371.1 735.8,376.6 736.3,382 737.4,406.5 738.7,424.7 741.6,445.7 743.8,432 745.6,410.1 747.6,382 749.6,372.5 752.3,365.5 755,369.3 755.9,382 757.2,395 760,388.3 760.5,382 761.2,355 762.3,316.5 765,303.7 767.7,317.7 770.5,310.4 773.2,305.5 774.7,321 776.3,335.5 778.6,346.2 781.4,348.4 783.8,331.1 786.5,313.4 789.3,325.6 792,339.3 794.2,357.5 796.7,381.2 799.3,379.4 802,377.2" fill="none" stroke="#ea3943" stroke-width="3" stroke-linejoin="round" stroke-linecap="butt" clip-path="url(#dn)"/>
<!-- left label -->
<rect x="17" y="368" width="65.5" height="35" rx="9" fill="#fff" fill-opacity=".88"/>
<text x="23.5" y="391.1" class="t txt" style="font-size:17.45px;fill:#56637b;stroke:#56637b;stroke-width:.25px">0.1492</text>
<!-- axis labels -->
<g class="txt"><text x="811.6" y="111.8" class="ax">0.153</text><text x="811.6" y="183.7" class="ax">0.152</text><text x="811.6" y="256.8" class="ax">0.151</text><text x="811.6" y="328.8" class="ax">0.150</text><text x="811.6" y="402.7" class="ax">0.149</text><text x="811.6" y="474.6" class="ax">0.148</text></g>
<!-- price tag -->
<rect x="801.4" y="358.8" width="62.8" height="37.4" rx="5.5" fill="#16c784"/>
<text x="811.3" y="384.8" class="t txt" style="font-size:17.65px;fill:#fff;stroke:#fff;stroke-width:.3px">0.149</text>
</svg>
</body></html>
